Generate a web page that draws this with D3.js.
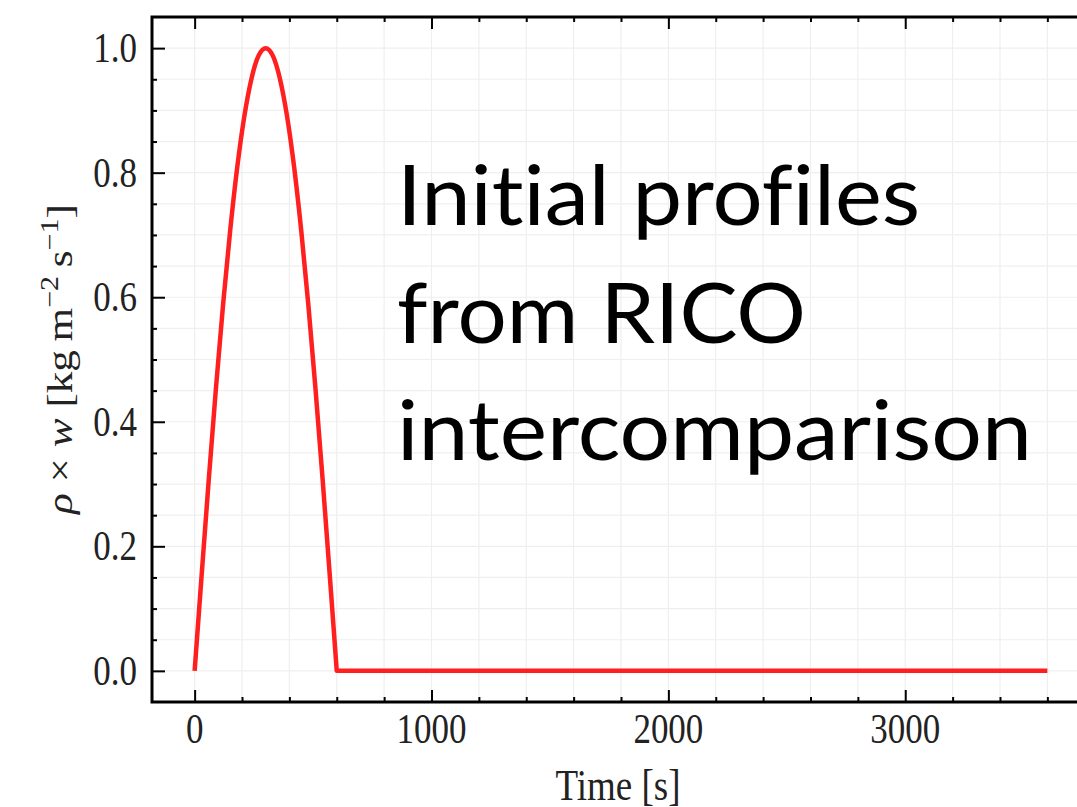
<!DOCTYPE html>
<html>
<head>
<meta charset="utf-8">
<script src="https://cdn.jsdelivr.net/npm/d3@7"></script>
<style>
  body { margin: 0; background: #fff; }
  svg { display: block; }
  .note text { font-variant-ligatures: none; font-feature-settings: "liga" 0, "clig" 0; }
</style>
</head>
<body>
<div id="chart-area"></div>
<script>
// values
const timeSec = [0, 30, 60, 90, 120, 150, 180, 210, 240, 270, 300,
                 330, 360, 390, 420, 450, 480, 510, 540, 570, 600, 3600];
const massFlux = [0, 0.156, 0.309, 0.454, 0.588, 0.707, 0.809, 0.891, 0.951, 0.988, 1.0,
                  0.988, 0.951, 0.891, 0.809, 0.707, 0.588, 0.454, 0.309, 0.156, 0, 0];
const xTickValues = [0, 1000, 2000, 3000];
const yTickValues = [0.0, 0.2, 0.4, 0.6, 0.8, 1.0];
const noteLines = ["Initial profiles", "from RICO", "intercomparison"];

const width = 1077;
const height = 807;
const margin = {left: 152, top: 17, right: -13, bottom: 105};
const innerWidth = width - margin.left - margin.right;   // frame runs past the right edge
const innerHeight = height - margin.top - margin.bottom;
const stretch = 1.2; // the figure is a bit taller than its fonts

const svg = d3.select("#chart-area")
    .append("svg")
    .attr("width", width)
    .attr("height", height);

svg.append("rect").attr("width", width).attr("height", height).attr("fill", "#fff");

const g = svg.append("g")
    .attr("transform", `translate(${margin.left},${margin.top})`);

const x = d3.scaleLinear().domain([-180, 3780]).range([0, innerWidth]);
const y = d3.scaleLinear().domain([-0.05, 1.05]).range([innerHeight, 0]);

const xMinor = d3.range(0, 3601, 200).filter(v => !xTickValues.includes(v));
const yMinor = d3.range(0, 21).map(i => +(i * 0.05).toFixed(2)).filter(v => !yTickValues.includes(v));

// grid at major and minor ticks
const grid = g.append("g").attr("stroke", "#efefef").attr("stroke-width", 1.2);
grid.selectAll(".gx").data(xTickValues.concat(xMinor)).join("line")
    .attr("x1", d => x(d)).attr("x2", d => x(d))
    .attr("y1", 0).attr("y2", innerHeight);
grid.selectAll(".gy").data(yTickValues.concat(yMinor)).join("line")
    .attr("y1", d => y(d)).attr("y2", d => y(d))
    .attr("x1", 0).attr("x2", innerWidth);

// annotation
const note = g.append("g")
    .attr("class", "note")
    .attr("font-family", "Lato, 'Noto Sans', sans-serif")
    .attr("font-size", 84)
    .attr("fill", "#000");
const noteLengths = [523, 409, 635];
note.selectAll("text").data(noteLines).join("text")
    .attr("x", 397 - margin.left)
    .attr("y", (d, i) => 225 - margin.top + i * 117.5)
    .attr("textLength", (d, i) => noteLengths[i])
    .attr("lengthAdjust", "spacingAndGlyphs")
    .text(d => d);

// the curve: smooth pulse, then the flat tail with a sharp corner at 600 s
const pts = timeSec.map((t, i) => [t, massFlux[i]]);
const pulse = pts.slice(0, 21);
const tail = pts.slice(20);

const smooth = d3.line().x(d => x(d[0])).y(d => y(d[1])).curve(d3.curveMonotoneX);
const straight = d3.line().x(d => x(d[0])).y(d => y(d[1]));

g.append("path")
    .attr("fill", "none")
    .attr("stroke", "#ff1f1f")
    .attr("stroke-width", 4.5)
    .attr("stroke-linejoin", "round")
    .attr("d", smooth(pulse) + straight(tail).replace(/^M/, "L"));

// inward ticks on all four sides
function ticks(axis, scale, values, size) {
  return axis(scale).tickValues(values).tickSize(-size).tickFormat("");
}
const tickStyle = sel => {
  sel.select(".domain").remove();
  sel.selectAll(".tick text").remove();
  sel.selectAll(".tick line").attr("stroke", "#000").attr("stroke-width", 2);
};

g.append("g").attr("transform", `translate(0,${innerHeight})`)
    .call(ticks(d3.axisBottom, x, xTickValues, 12)).call(tickStyle);
g.append("g").attr("transform", `translate(0,${innerHeight})`)
    .call(ticks(d3.axisBottom, x, xMinor, 5)).call(tickStyle);
g.append("g").call(ticks(d3.axisTop, x, xTickValues, 12)).call(tickStyle);
g.append("g").call(ticks(d3.axisTop, x, xMinor, 5)).call(tickStyle);
g.append("g").call(ticks(d3.axisLeft, y, yTickValues, 13)).call(tickStyle);
g.append("g").call(ticks(d3.axisLeft, y, yMinor, 5)).call(tickStyle);
g.append("g").attr("transform", `translate(${innerWidth},0)`)
    .call(ticks(d3.axisRight, y, yTickValues, 13)).call(tickStyle);
g.append("g").attr("transform", `translate(${innerWidth},0)`)
    .call(ticks(d3.axisRight, y, yMinor, 5)).call(tickStyle);

// frame
g.append("rect")
    .attr("width", innerWidth).attr("height", innerHeight)
    .attr("fill", "none").attr("stroke", "#000").attr("stroke-width", 3);

// tick labels
const serif = "'Liberation Serif', 'Times New Roman', serif";
const labels = g.append("g")
    .attr("font-family", serif).attr("font-size", 35).attr("fill", "#222");

labels.selectAll(".xl").data(xTickValues).join("text")
    .attr("text-anchor", "middle")
    .attr("transform", d => `translate(${x(d)},${innerHeight + 41}) scale(1,${stretch})`)
    .text(d => d);

labels.selectAll(".yl").data(yTickValues).join("text")
    .attr("text-anchor", "end")
    .attr("dy", "0.33em")
    .attr("transform", d => `translate(-15,${y(d)}) scale(1,${stretch})`)
    .text(d => d3.format(".1f")(d));

// axis titles
labels.append("text")
    .attr("text-anchor", "middle")
    .attr("font-size", 37)
    .attr("transform", `translate(${618 - margin.left},${800 - margin.top}) scale(1,${stretch})`)
    .text("Time [s]");

const yTitle = labels.append("text")
    .attr("text-anchor", "middle")
    .attr("font-size", 36)
    .attr("transform", `translate(${72 - margin.left},${359 - margin.top}) rotate(-90) scale(${stretch},1)`);
yTitle.append("tspan").attr("font-style", "italic").text("\u03C1");
yTitle.append("tspan").text(" \u00D7 ");
yTitle.append("tspan").attr("font-style", "italic").text("w");
yTitle.append("tspan").text(" [kg\u2009m");
yTitle.append("tspan").attr("font-size", 25).attr("dy", -14).text("\u22122");
yTitle.append("tspan").attr("dy", 14).text("\u2009s");
yTitle.append("tspan").attr("font-size", 25).attr("dy", -14).text("\u22121");
yTitle.append("tspan").attr("dy", 14).text("]");
</script>
</body>
</html>
